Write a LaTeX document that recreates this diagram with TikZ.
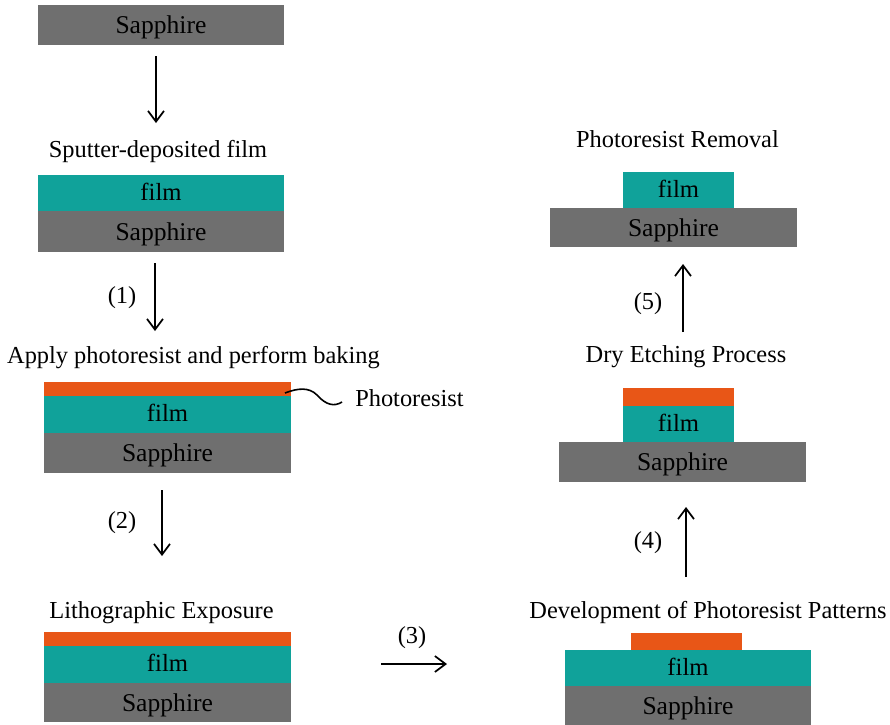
\documentclass[tikz,border=0pt]{standalone}
\usepackage{fontspec}
\setmainfont{Liberation Serif}
\usetikzlibrary{arrows.meta}
\definecolor{sapgray}{RGB}{111,111,111}
\definecolor{filmteal}{RGB}{16,162,154}
\definecolor{resorange}{RGB}{232,86,23}
\tikzset{
  layer/.style args={#1/#2}{rectangle, inner sep=0pt, outer sep=0pt,
    minimum width=#1*0.75pt, minimum height=#2*0.75pt},
  sap/.style={layer=#1, fill=sapgray, font=\fontsize{19.2}{22}\selectfont,
    text height=14pt, text depth=1pt},
  filmbox/.style={layer=#1, fill=filmteal, font=\fontsize{18.5}{22}\selectfont,
    text height=12.5pt, text depth=1.5pt},
  resist/.style={layer=#1, fill=resorange},
  lab/.style={anchor=base, inner sep=0pt, font=\fontsize{18.3}{22}\selectfont},
  flow/.style={line width=1.3pt, -{Straight Barb[length=8pt,width=12pt,line width=1.3pt]}},
}
\begin{document}
\begin{tikzpicture}[x=0.75pt,y=-0.75pt]
\useasboundingbox (0,0) rectangle (890,725);

% step 0
\node[sap=246/40] (s0) at (161,25) {Sapphire};
% step 1
\node[filmbox=246/36] (f1) at (161,193) {film};
\node[sap=246/41] (s1) at (161,231.5) {Sapphire};
% step 2
\node[resist=247/14] (p2) at (167.5,389) {};
\node[filmbox=247/37] (f2) at (167.5,414.5) {film};
\node[sap=247/40] (s2) at (167.5,453) {Sapphire};
% step 3
\node[resist=247/14] (p3) at (167.5,639) {};
\node[filmbox=247/37] (f3) at (167.5,664.5) {film};
\node[sap=247/39] (s3) at (167.5,702.5) {Sapphire};
% step 4
\node[resist=111/17] (p4) at (686.5,641.5) {};
\node[filmbox=246/36] (f4) at (688,668) {film};
\node[sap=246/39] (s4) at (688,705.5) {Sapphire};
% step 5
\node[resist=111/18] (p5) at (678.5,397) {};
\node[filmbox=111/36] (f5) at (678.5,424) {film};
\node[sap=247/40] (s5) at (682.5,462) {Sapphire};
% step 6
\node[filmbox=111/36] (f6) at (678.5,190) {film};
\node[sap=247/39] (s6) at (673.5,227.5) {Sapphire};

% labels
\node[lab] (t1) at (158,157) {Sputter-deposited film};
\node[lab] (n1) at (122,303) {(1)};
\node[lab] (t2) at (193.5,363) {Apply photoresist and perform baking};
\node[lab, anchor=base west] (tpr) at (355,406) {Photoresist};
\node[lab] (n2) at (122,528) {(2)};
\node[lab] (t3) at (161.5,618) {Lithographic Exposure};
\node[lab] (n3) at (412,643) {(3)};
\node[lab] (t4) at (708,618) {Development of Photoresist Patterns};
\node[lab] (n4) at (648,548) {(4)};
\node[lab] (t5) at (686,362) {Dry Etching Process};
\node[lab] (n5) at (648,309) {(5)};
\node[lab] (t6) at (677.5,147) {Photoresist Removal};

% arrow end points
\coordinate (a0s) at (156,56);  \coordinate (a0e) at (156,123);
\coordinate (a1s) at (155,263); \coordinate (a1e) at (155,331);
\coordinate (a2s) at (162,490); \coordinate (a2e) at (162,556);
\coordinate (a3s) at (381,664); \coordinate (a3e) at (447,664);
\coordinate (a4s) at (686,577); \coordinate (a4e) at (686,507);
\coordinate (a5s) at (683,332); \coordinate (a5e) at (683,264);

\draw[flow] (a0s) -- (a0e);
\draw[flow] (a1s) -- (a1e);
\draw[flow] (a2s) -- (a2e);
\draw[flow] (a3s) -- (a3e);
\draw[flow] (a4s) -- (a4e);
\draw[flow] (a5s) -- (a5e);

% squiggle to photoresist label
\coordinate (sq0) at (285,393);
\coordinate (sq1) at (342,402);
\draw[line width=1.2pt] (sq0) .. controls (298,388) and (309,387) .. (317,395)
  .. controls (326,405) and (334,407) .. (sq1);
\end{tikzpicture}
\end{document}
